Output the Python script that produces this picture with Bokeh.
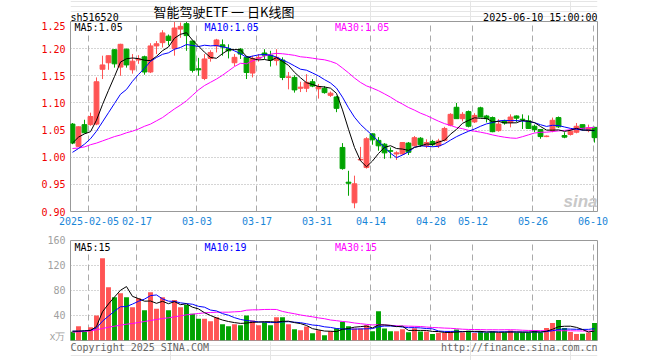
from bokeh.plotting import figure
from bokeh.models import Range1d, FixedTicker, Label, ColumnDataSource
from bokeh.layouts import column
from bokeh.embed import file_html
from bokeh.resources import INLINE

# ---------------- data ----------------
code_text = "sh516520"
title_text = "智能驾驶ETF 一 日K线图"
stamp_text = "2025-06-10 15:00:00"
copyright_text = "Copyright 2025 SINA.COM"
url_text = "http://finance.sina.com.cn"

tick_idx = [3, 11, 21, 31, 41, 50, 60, 67, 77, 87]
tick_labels = ["2025-02-05", "02-17", "03-03", "03-17", "03-31",
               "04-14", "04-28", "05-12", "05-26", "06-10"]
price_ticks = [0.90, 0.95, 1.00, 1.05, 1.10, 1.15, 1.20, 1.25]
vol_ticks = [0, 40, 80, 120, 160]
vol_unit = "x万"

open_ = [1.061, 1.020, 1.060, 1.060, 1.061, 1.162, 1.174, 1.198, 1.166, 1.199,
         1.161, 1.179, 1.185, 1.157, 1.205, 1.211, 1.223, 1.200, 1.236, 1.246,
         1.214, 1.163, 1.145, 1.182, 1.205, 1.207, 1.200, 1.174, 1.199, 1.184,
         1.155, 1.182, 1.192, 1.188, 1.178, 1.179, 1.147, 1.147, 1.127, 1.127,
         1.139, 1.126, 1.127, 1.114, 1.111, 1.018, 0.954, 0.916, 0.995, 0.981,
         1.043, 1.031, 1.024, 1.012, 1.006, 1.006, 1.026, 1.021, 1.035, 1.021,
         1.029, 1.021, 1.031, 1.059, 1.092, 1.071, 1.084, 1.065, 1.091, 1.076,
         1.073, 1.049, 1.067, 1.064, 1.076, 1.070, 1.067, 1.057, 1.051, 1.038,
         1.049, 1.073, 1.040, 1.042, 1.046, 1.060, 1.049, 1.055]
high = [1.063, 1.057, 1.069, 1.082, 1.147, 1.187, 1.187, 1.199, 1.209, 1.200,
        1.190, 1.188, 1.187, 1.210, 1.214, 1.234, 1.226, 1.249, 1.248, 1.249,
        1.215, 1.183, 1.190, 1.197, 1.218, 1.217, 1.208, 1.190, 1.201, 1.186,
        1.187, 1.190, 1.199, 1.196, 1.199, 1.184, 1.157, 1.151, 1.139, 1.153,
        1.144, 1.135, 1.131, 1.121, 1.113, 1.026, 0.975, 0.966, 1.019, 1.037,
        1.044, 1.037, 1.026, 1.018, 1.011, 1.028, 1.028, 1.039, 1.037, 1.033,
        1.032, 1.034, 1.056, 1.081, 1.100, 1.083, 1.086, 1.081, 1.093, 1.078,
        1.075, 1.070, 1.069, 1.079, 1.077, 1.079, 1.077, 1.060, 1.052, 1.040,
        1.073, 1.075, 1.046, 1.052, 1.063, 1.060, 1.060, 1.056]
low = [1.024, 1.019, 1.044, 1.058, 1.059, 1.144, 1.161, 1.165, 1.150, 1.165,
       1.154, 1.172, 1.152, 1.155, 1.190, 1.202, 1.206, 1.187, 1.220, 1.196,
       1.156, 1.150, 1.142, 1.176, 1.193, 1.187, 1.182, 1.168, 1.181, 1.144,
       1.147, 1.176, 1.181, 1.167, 1.169, 1.142, 1.125, 1.119, 1.120, 1.120,
       1.129, 1.108, 1.117, 1.111, 1.083, 0.977, 0.929, 0.906, 0.994, 0.979,
       1.023, 1.012, 0.997, 0.998, 0.995, 1.004, 1.004, 1.020, 1.019, 1.017,
       1.020, 1.017, 1.029, 1.057, 1.071, 1.066, 1.055, 1.063, 1.074, 1.064,
       1.046, 1.047, 1.060, 1.055, 1.065, 1.052, 1.052, 1.046, 1.034, 1.037,
       1.046, 1.054, 1.035, 1.040, 1.044, 1.049, 1.046, 1.027]
close = [1.026, 1.056, 1.045, 1.075, 1.139, 1.170, 1.187, 1.172, 1.208, 1.170,
         1.177, 1.181, 1.157, 1.205, 1.209, 1.229, 1.215, 1.238, 1.241, 1.224,
         1.160, 1.161, 1.181, 1.193, 1.216, 1.203, 1.196, 1.184, 1.190, 1.156,
         1.182, 1.184, 1.188, 1.179, 1.184, 1.147, 1.148, 1.124, 1.129, 1.138,
         1.131, 1.130, 1.119, 1.118, 1.090, 0.979, 0.952, 0.951, 0.996, 1.034,
         1.032, 1.021, 1.008, 1.011, 1.008, 1.027, 1.009, 1.036, 1.023, 1.027,
         1.023, 1.030, 1.053, 1.079, 1.071, 1.079, 1.057, 1.077, 1.074, 1.071,
         1.047, 1.061, 1.063, 1.074, 1.072, 1.069, 1.053, 1.051, 1.038, 1.039,
         1.068, 1.056, 1.037, 1.048, 1.057, 1.052, 1.054, 1.036]
volume = [13.9, 22.9, 13.9, 21.3, 40.0, 131.7, 85.3, 69.3, 75.7, 69.3,
          53.3, 67.7, 48.5, 77.3, 50.7, 69.3, 48.5, 65.0, 53.3, 57.0,
          42.7, 34.7, 34.7, 31.0, 37.3, 26.0, 23.0, 26.0, 24.5, 40.0,
          32.0, 24.5, 29.3, 24.5, 37.3, 37.3, 26.0, 18.1, 16.5, 22.4,
          11.7, 16.5, 8.5, 15.0, 19.7, 29.9, 22.9, 19.2, 19.2, 24.5,
          15.0, 46.9, 19.2, 15.0, 15.0, 18.1, 13.3, 19.7, 14.6, 14.6,
          10.3, 12.4, 12.4, 14.6, 17.7, 12.9, 15.6, 11.9, 15.1, 11.9,
          14.6, 11.9, 12.9, 16.1, 12.9, 12.9, 12.4, 16.1, 13.0, 20.0,
          28.0, 33.0, 20.0, 13.5, 10.5, 11.0, 13.0, 28.0]

# moving-average values for the days whose window
# starts before the first visible candle
ma5_head = [1.026, 1.037, 1.043, 1.047]
ma10_head = [1.009, 1.016, 1.024, 1.034, 1.048, 1.065, 1.082, 1.099, 1.116]
ma30_head = [1.016, 1.017, 1.019, 1.023, 1.026, 1.030, 1.034, 1.038, 1.041, 1.045,
             1.048, 1.052, 1.057, 1.061, 1.067, 1.073, 1.081, 1.089, 1.096, 1.104,
             1.114, 1.124, 1.132, 1.138, 1.144, 1.151, 1.159, 1.167, 1.173]
vma5_head = [14.9, 14.9, 15.5, 16.0]
vma10_head = [14.9, 14.9, 15.5, 16.5, 20.0, 31.0, 39.0, 47.0, 54.0]
vma30_head = [13.3, 13.9, 14.4, 15.5, 17.1, 19.2, 21.3, 22.9, 24.5, 26.1,
              27.2, 28.8, 30.4, 32.0, 33.6, 35.2, 36.3, 37.9, 39.5, 41.1,
              42.1, 43.2, 44.3, 44.8, 45.3, 45.3, 45.3, 45.9, 46.4]


def moving_average(vals, n, head):
    out = list(head)
    for i in range(len(head), len(vals)):
        out.append(sum(vals[i - n + 1:i + 1]) / n)
    return out


ma5 = moving_average(close, 5, ma5_head)
ma10 = moving_average(close, 10, ma10_head)
ma30 = moving_average(close, 30, ma30_head)
vma5 = moving_average(volume, 5, vma5_head)
vma10 = moving_average(volume, 10, vma10_head)
vma30 = moving_average(volume, 30, vma30_head)

# ---------------- style ----------------
RED = "#ff5454"
GREEN = "#00a300"
GRID = "#aaaaaa"
FRAME = "#999999"
MONO = "DejaVu Sans Mono"
CJK = "Noto Sans CJK SC"
BLUE_LBL = "#1a86d8"
W = 660
ML, MR = 70, 63          # frame spans x = 70 .. 597
FW = W - ML - MR         # 527

N = len(close)
xs = list(range(N))
colors = [RED if c >= o else GREEN for o, c in zip(open_, close)]
src = ColumnDataSource(dict(
    x=xs, o=open_, h=high, l=low, c=close, v=volume, col=colors,
    top=[max(o, c) for o, c in zip(open_, close)],
    bot=[min(o, c) for o, c in zip(open_, close)],
))

tick_pos = [i - 0.25 for i in tick_idx]
x_range = Range1d(-0.333, 87.5)


def add_text(p, x, y, text, color, size="10px", align="left",
             baseline="top", font=MONO, style="normal"):
    p.add_layout(Label(x=x, y=y, x_units="screen", y_units="screen", text=text,
                       text_color=color, text_font_size=size, text_align=align,
                       text_baseline=baseline, text_font=font,
                       text_font_style=style))


def strip_fig(height):
    p = figure(width=W, height=height, x_range=Range1d(0, FW), y_range=Range1d(0, height),
               output_backend="svg", toolbar_location=None, tools="",
               x_axis_location=None, y_axis_location=None,
               min_border_left=ML, min_border_right=MR,
               min_border_top=0, min_border_bottom=0)
    p.outline_line_color = None
    p.background_fill_color = "white"
    p.border_fill_color = "white"
    return p


def base_fig(height, y0, y1, top, bottom):
    p = figure(width=W, height=height, x_range=x_range, y_range=Range1d(y0, y1),
               output_backend="svg", toolbar_location=None, tools="",
               min_border_left=ML, min_border_right=MR,
               min_border_top=top, min_border_bottom=bottom)
    p.outline_line_color = FRAME
    p.outline_line_width = 1
    p.background_fill_color = "white"
    p.border_fill_color = "white"
    for ax in (p.xaxis[0], p.yaxis[0]):
        ax.axis_line_color = None
        ax.major_tick_line_color = None
        ax.minor_tick_line_color = None
        ax.major_tick_out = 0
        ax.major_tick_in = 0
        ax.minor_tick_out = 0
        ax.major_label_text_font = MONO
        ax.major_label_text_font_size = "10px"
    p.xaxis.ticker = FixedTicker(ticks=tick_pos)
    p.xgrid.ticker = FixedTicker(ticks=tick_pos)
    p.xgrid.grid_line_color = GRID
    p.xgrid.grid_line_dash = "6 4"
    p.xgrid.grid_line_width = 1
    p.ygrid.grid_line_color = GRID
    p.ygrid.grid_line_dash = "1 2"
    p.ygrid.grid_line_width = 1
    return p


# ---------------- header (frame spans x 70..597, y 0..21) ----------------
head = strip_fig(21)
add_text(head, 0, 4.5, code_text, "#000000", baseline="alphabetic")
add_text(head, 153.5, 10, title_text, "#000000", size="13px", align="center",
         baseline="middle", font=CJK)
add_text(head, FW, 4.5, stamp_text, "#000000", align="right", baseline="alphabetic")

# ---------------- price panel ----------------
p1 = base_fig(208, 0.90, 1.25, 0, 18)
p1.yaxis.ticker = FixedTicker(ticks=price_ticks)
p1.yaxis.major_label_overrides = {t: f"{t:.2f}" for t in price_ticks}
p1.yaxis.major_label_text_color = "#f00000"
p1.yaxis.major_label_standoff = 5
p1.ygrid.ticker = FixedTicker(ticks=price_ticks[1:-1])
p1.xaxis.major_label_overrides = {t: lab for t, lab in zip(tick_pos, tick_labels)}
p1.xaxis.major_label_text_color = BLUE_LBL
p1.xaxis.major_label_standoff = 5

p1.segment(x0="x", y0="l", x1="x", y1="h", color="col", line_width=1, source=src)
p1.vbar(x="x", width=0.8, top="top", bottom="bot", fill_color="col",
        line_color="col", line_width=1, source=src)
p1.line(xs, ma30, color="#ff00ff", line_width=1)
p1.line(xs, ma10, color="#0000ff", line_width=1)
p1.line(xs, ma5, color="#000000", line_width=1)

FH1 = 190
add_text(p1, 4, FH1 - 0.8, f"MA5:{ma5[-1]:.2f}", "#000000")
add_text(p1, 134, FH1 - 0.8, f"MA10:{ma10[-1]:.2f}", "#0000ff")
add_text(p1, 264.5, FH1 - 0.8, f"MA30:{ma30[-1]:.2f}", "#ff00ff")
add_text(p1, 527, 1, "sina", "#c8c8c8", size="17px", align="right",
         baseline="bottom", font="Liberation Sans", style="bold italic")

# ---------------- volume panel ----------------
p2 = base_fig(112, 0, 160, 11, 1)
p2.xaxis.visible = False
p2.yaxis.ticker = FixedTicker(ticks=vol_ticks)
p2.yaxis.major_label_overrides = {0: vol_unit}
p2.yaxis.major_label_text_color = "#a0a0a0"
p2.yaxis.major_label_standoff = 5
p2.ygrid.ticker = FixedTicker(ticks=vol_ticks[1:-1])

p2.vbar(x="x", width=0.82, top="v", bottom=0, fill_color="col",
        line_color=None, source=src)
p2.line(xs, vma30, color="#ff00ff", line_width=1)
p2.line(xs, vma10, color="#0000ff", line_width=1)
p2.line(xs, vma5, color="#000000", line_width=1)

FH2 = 100
add_text(p2, 4, FH2 - 1.7, f"MA5:{round(vma5[-1])}", "#000000")
add_text(p2, 134, FH2 - 1.7, f"MA10:{round(vma10[-1])}", "#0000ff")
add_text(p2, 264.5, FH2 - 1.7, f"MA30:{round(vma30[-1])}", "#ff00ff")

# ---------------- footer (frame spans x 70..597, y 341..360) ----------------
foot = strip_fig(19)
add_text(foot, 0, 18.5, copyright_text, "#666666")
add_text(foot, FW, 18.5, url_text, "#666666", align="right")

layout = column(head, p1, p2, foot, spacing=0)
open("out.html", "w").write(file_html(layout, INLINE))
